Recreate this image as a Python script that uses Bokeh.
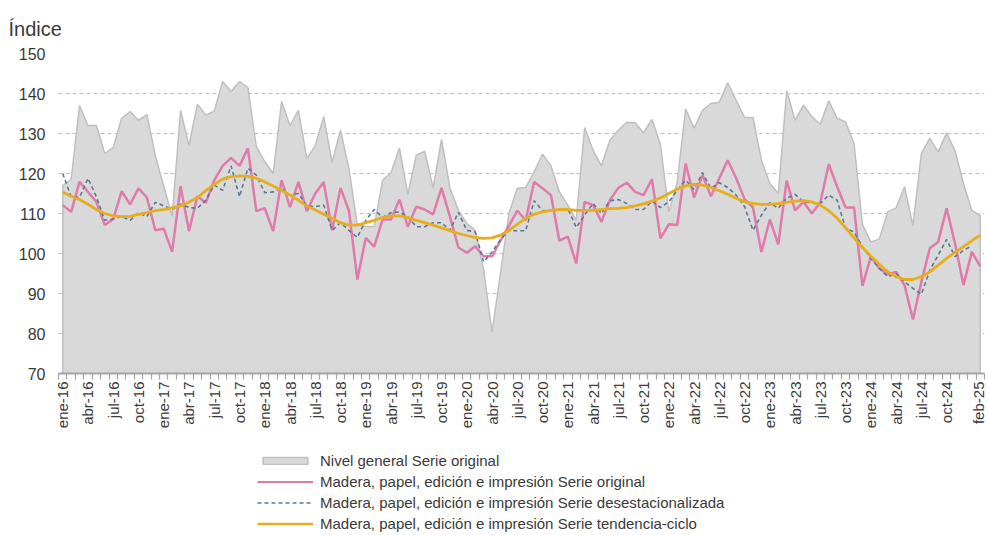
import math
from bokeh.plotting import figure
from bokeh.layouts import column
from bokeh.models import FixedTicker, Range1d, Legend, LegendItem
from bokeh.embed import file_html
from bokeh.resources import INLINE

meses = ["ene", "feb", "mar", "abr", "may", "jun", "jul", "ago", "sep", "oct", "nov", "dic"]
anios = list(range(2016, 2026))
fechas = [f"{m}-{a % 100:02d}" for a in anios for m in meses][:110]

nivel_general = [
    117, 118.5, 137, 132, 132, 125, 126.5, 133.8, 135.5, 133.3, 134.7, 124.5,
    116.8, 109.3, 135.8, 127, 137.3, 134.6, 135.6, 143, 140.5, 143, 141.5, 126.7,
    123, 120, 138, 132, 135.8, 123.8, 126.9, 134.2, 122.8, 130.8, 121.3, 107.1,
    106.8, 106.7, 118.3, 120.2, 126.4, 114.8, 124.6, 125.6, 116.4, 128.5, 116.4, 110.8,
    107.5, 105.8, 96, 80.3, 95, 110, 116.3, 116.5, 120.4, 124.8, 121.9, 115.4,
    112.1, 108.3, 131.5, 125.8, 121.9, 128.3, 130.8, 132.8, 132.7, 130.2, 133.5, 127.3,
    110.4, 117.9, 136.1, 131.3, 135.8, 137.5, 137.8, 142.7, 138.3, 134, 134, 123.3,
    117.5, 115, 140.7, 133.3, 137.1, 134.2, 132.3, 138.2, 133.8, 132.9, 127.5, 107.3,
    102.9, 103.6, 110.4, 111.4, 116.7, 106.9, 125, 128.8, 125.4, 130.2, 125.7, 117.5,
    110.7, 109.6,
]
madera_original = [
    112.1, 110.4, 117.9, 115.4, 112.9, 107.1, 108.6, 115.6, 112.3, 116.3, 114, 105.8,
    106.2, 100.4, 116.8, 105.6, 114.3, 112.7, 118.3, 121.9, 123.9, 121.9, 126.3, 110.6,
    111.3, 105.6, 118.3, 111.6, 117.9, 110.6, 115, 117.9, 105.8, 116.4, 110.7, 93.5,
    103.9, 101.7, 108.5, 108.5, 113.5, 106.7, 111.7, 111, 109.8, 116.4, 109.2, 101.5,
    100.2, 101.8, 99.3, 99.3, 103.2, 106.9, 110.7, 108.3, 117.9, 116.3, 114.6, 103.2,
    104.2, 97.5, 112.9, 112.1, 107.9, 113.3, 116.4, 117.7, 115.4, 114.6, 118.6, 103.8,
    107.3, 107.1, 122.5, 114, 119.6, 114.3, 118.8, 123.3, 118.8, 113.6, 111.5, 100.4,
    108.5, 102.3, 118.2, 110.8, 112.9, 110, 112.8, 122.3, 116.7, 111.5, 111.5, 91.9,
    99.2, 96.3, 94.8, 95.4, 92.1, 83.5, 92.9, 101.3, 102.9, 111.3, 102.5, 92.1,
    100.4, 96.8,
]
madera_desestacionalizada = [
    120, 114.2, 114, 118.8, 114.2, 108.3, 108.6, 109.3, 108.3, 110.2, 109.2, 112.8,
    111.9, 111, 112.3, 111.5, 111.3, 113.3, 117.1, 115.8, 121.9, 114.2, 121.3, 119.6,
    115.2, 115.4, 116.3, 114.6, 115, 111.9, 111.7, 112.1, 105.8, 107.7, 105.8, 104,
    108.3, 111, 109, 110.2, 110.4, 109.2, 106.7, 106.7, 107.7, 107.7, 105.8, 110.3,
    105.8, 105.4, 97.9, 100.4, 103.5, 105.7, 105.7, 105.7, 113.2, 110.7, 110.8, 111,
    111.3, 106.5, 109.6, 112.5, 110, 113.2, 113.5, 112.5, 111, 111, 113.1, 111.5,
    112.9, 115.8, 118.3, 116, 120.2, 116.3, 117.7, 116.5, 114.6, 111.7, 105.8, 109.6,
    112.7, 111.3, 113.8, 114.8, 112.9, 112.7, 112.5, 114.6, 113.3, 106.3, 105.4, 101.7,
    98.8, 96.3, 94.2, 95, 92.9, 91.3, 89.8, 95.8, 99.6, 103.5, 99.2, 100.8,
    101.9, float("nan"),
]
madera_tendencia = [
    115.4, 114.3, 113.5, 112.3, 111, 110, 109.4, 109.2, 109.3, 109.8, 110.2, 110.7,
    111, 111.4, 111.9, 112.8, 114, 115.7, 117.3, 118.6, 119.2, 119.4, 119.3, 118.8,
    117.9, 116.9, 115.8, 114.6, 113.3, 111.9, 110.9, 109.8, 108.8, 107.7, 107.1, 107.1,
    107.7, 108.3, 109, 109.4, 109.4, 109, 108.3, 107.7, 107.1, 106.4, 105.7, 105,
    104.5, 104, 103.8, 103.9, 104.6, 105.8, 107.3, 108.8, 109.8, 110.4, 110.8, 111,
    111, 110.8, 110.8, 110.8, 111, 111.2, 111.3, 111.5, 111.9, 112.4, 113.1, 113.9,
    115, 116.1, 116.9, 117.3, 117.1, 116.5, 115.7, 114.8, 113.8, 112.9, 112.5, 112.3,
    112.3, 112.5, 112.8, 113.1, 113.2, 112.9, 112.1, 110.7, 108.8, 106.4, 103.9, 101.5,
    99.3, 97.3, 95.4, 94.2, 93.5, 93.5, 94.2, 95.4, 97.1, 98.8, 100.3, 101.7,
    103.2, 104.6,
]
y_ticks = [70, 80, 90, 100, 110, 120, 130, 140, 150]
series_labels = [
    "Nivel general Serie original",
    "Madera, papel, edición e impresión Serie original",
    "Madera, papel, edición e impresión Serie desestacionalizada",
    "Madera, papel, edición e impresión Serie tendencia-ciclo",
]

n = len(fechas)
x = list(range(n))
label_idx = list(range(0, n - 2, 3)) + [n - 1]

FONT = "Liberation Sans"
TXT = "#3a3a3a"
C_AREA, C_AREA_LINE = "#d9d9d9", "#bfbfbf"
C_ORIG, C_DES, C_TEND = "#df7aab", "#5b7897", "#e6ad1f"

p = figure(width=986, height=445, output_backend="svg", toolbar_location=None,
           x_range=Range1d(-0.5, n - 0.5), y_range=Range1d(y_ticks[0], y_ticks[-1]),
           min_border_left=58, min_border_right=2, min_border_top=53, min_border_bottom=72)
p.outline_line_color = None

# title
p.title.text = "Índice"
p.title.align = "left"
p.title.offset = -50
p.title.standoff = 28
p.title.text_font = FONT
p.title.text_font_size = "20px"
p.title.text_font_style = "normal"
p.title.text_color = TXT

# grid
p.xgrid.visible = False
p.ygrid.ticker = FixedTicker(ticks=y_ticks[1:])
p.ygrid.grid_line_color = "#bfbfbf"
p.ygrid.grid_line_dash = "4 3"
p.ygrid.grid_line_width = 1.2

# area + lines
xs_area = [x[0]] + x + [x[-1]]
ys_area = [y_ticks[0]] + nivel_general + [y_ticks[0]]
p.patch(xs_area, ys_area, fill_color=C_AREA, line_color=C_AREA_LINE, line_width=1.5)
p.line(x, madera_original, line_color=C_ORIG, line_width=2.5)
p.line(x, madera_desestacionalizada, line_color=C_DES, line_width=1.6, line_dash="4 3")
p.line(x, madera_tendencia, line_color=C_TEND, line_width=2.8)

# y axis
p.yaxis.ticker = FixedTicker(ticks=y_ticks)
p.yaxis.axis_line_color = None
p.yaxis.major_tick_line_color = None
p.yaxis.major_tick_out = 0
p.yaxis.major_tick_in = 0
p.yaxis.minor_tick_line_color = None
p.yaxis.minor_tick_out = 0
p.yaxis.major_label_standoff = 13
p.yaxis.major_label_text_font = FONT
p.yaxis.major_label_text_font_size = "16px"
p.yaxis.major_label_text_color = TXT

# x axis
p.xaxis.ticker = FixedTicker(ticks=label_idx, minor_ticks=[i - 0.5 for i in range(n + 1)])
p.xaxis.major_label_overrides = {i: fechas[i] for i in label_idx}
p.xaxis.major_label_orientation = math.pi / 2
p.xaxis.axis_line_color = "#a6a6a6"
p.xaxis.axis_line_width = 2
p.xaxis.major_tick_line_color = None
p.xaxis.major_tick_out = 6
p.xaxis.major_tick_in = 0
p.xaxis.minor_tick_line_color = "#a6a6a6"
p.xaxis.minor_tick_out = 6
p.xaxis.minor_tick_in = 0
p.xaxis.minor_tick_line_width = 1.2
p.xaxis.major_label_standoff = 2
p.xaxis.major_label_text_font = FONT
p.xaxis.major_label_text_font_size = "15px"
p.xaxis.major_label_text_color = TXT

# legend in a separate strip below (frames of column children are aligned)
lg = figure(width=986, height=89, output_backend="svg", toolbar_location=None,
            x_range=Range1d(0, 1), y_range=Range1d(0, 1),
            min_border_left=0, min_border_right=0, min_border_top=0, min_border_bottom=0)
lg.axis.visible = False
lg.grid.visible = False
lg.outline_line_color = None
nan = float("nan")
la = lg.patch([nan, nan, nan], [nan, nan, nan], fill_color=C_AREA, line_color=C_AREA_LINE, line_width=1.5)
lo = lg.line([nan, nan], [nan, nan], line_color=C_ORIG, line_width=2.2)
ld = lg.line([nan, nan], [nan, nan], line_color=C_DES, line_width=1.5, line_dash="4 3")
lt = lg.line([nan, nan], [nan, nan], line_color=C_TEND, line_width=2.4)

legend = Legend(items=[LegendItem(label=t, renderers=[r]) for t, r in zip(series_labels, [la, lo, ld, lt])],
                location=(199, 2), orientation="vertical", glyph_width=56, glyph_height=9,
                label_height=14, spacing=4, padding=0, margin=0, border_line_color=None,
                background_fill_alpha=0, label_text_font=FONT, label_text_font_size="15px",
                label_text_color=TXT, label_standoff=7)
lg.add_layout(legend)

layout = column(p, lg, spacing=0)
open("out.html", "w").write(file_html(layout, INLINE))
